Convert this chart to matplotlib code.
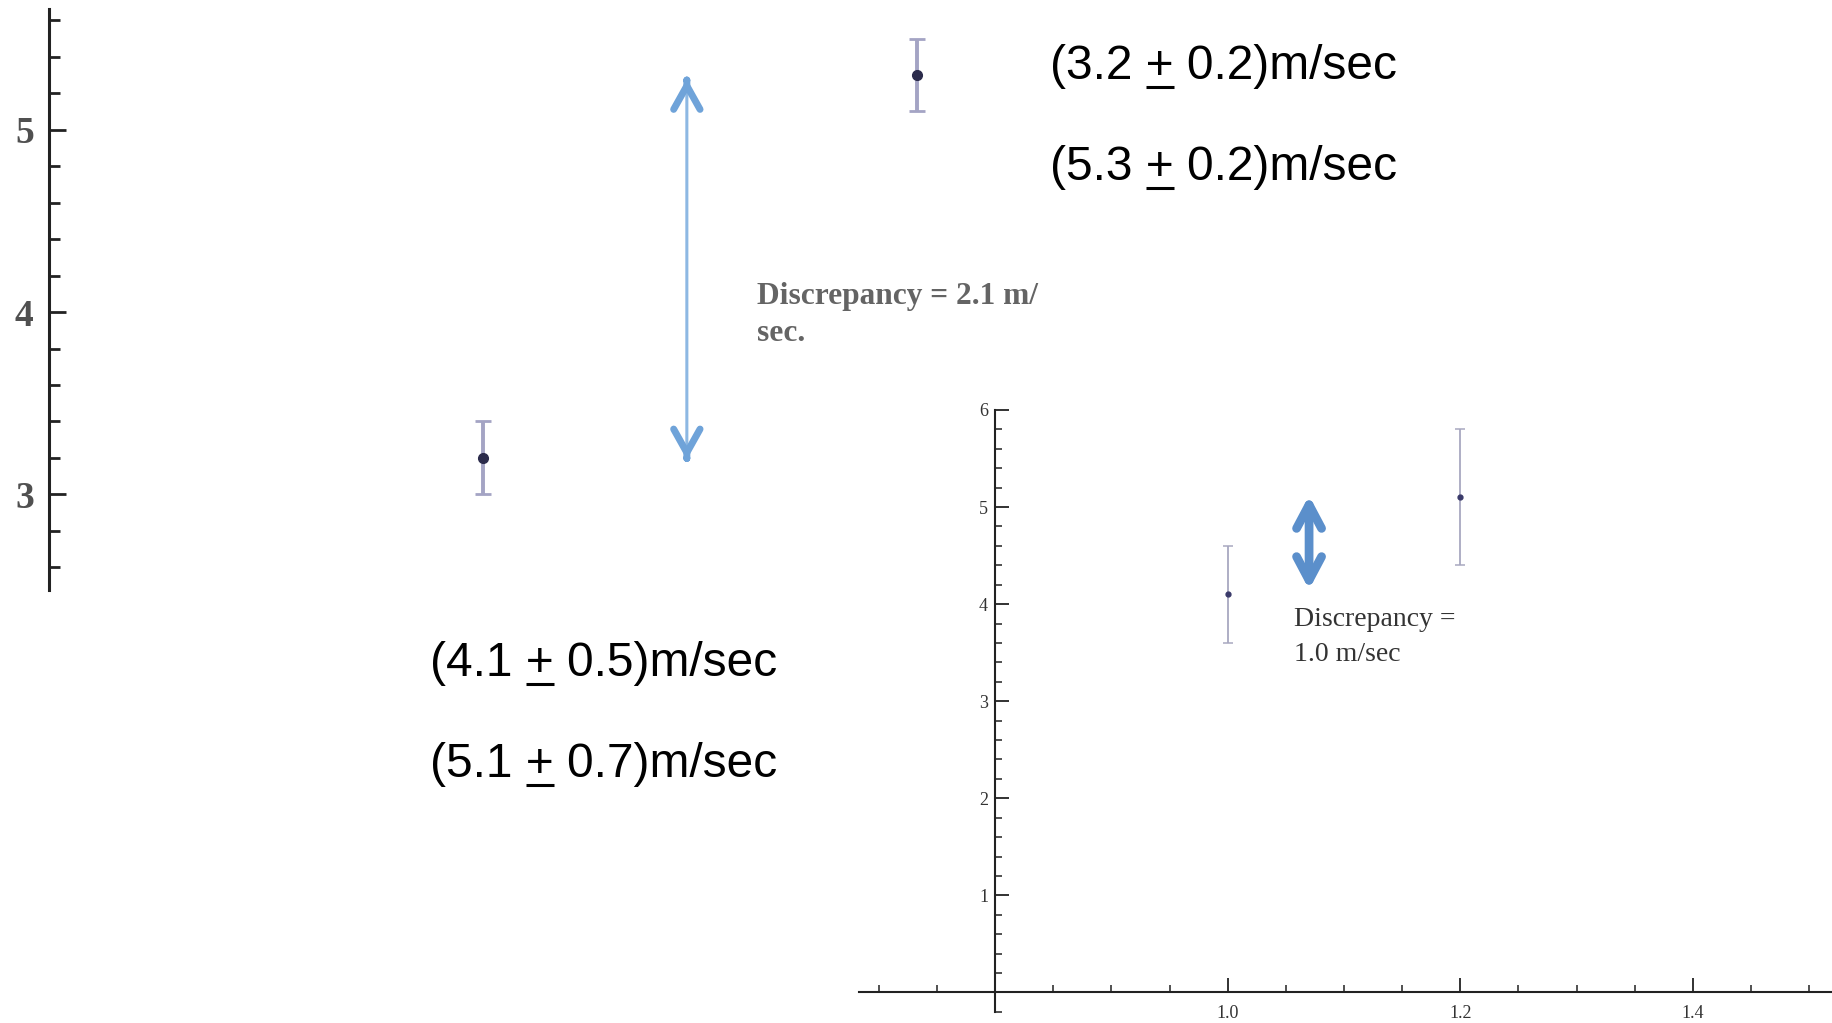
import matplotlib
matplotlib.use('Agg')
import matplotlib.pyplot as plt
from matplotlib.lines import Line2D
from matplotlib.ticker import MultipleLocator, FixedLocator, FormatStrFormatter

W, H, DPI = 1833, 1023, 100

# ---------------- data ----------------
left_x = [1, 2]
left_speed = [3.2, 5.3]
left_err = [0.2, 0.2]
left_yticks = [3, 4, 5]

right_x = [1.0, 1.2]
right_speed = [4.1, 5.1]
right_err = [0.5, 0.7]
right_yticks = [1, 2, 3, 4, 5, 6]
right_xticks = [1.0, 1.2, 1.4]

fig = plt.figure(figsize=(W / DPI, H / DPI), dpi=DPI)
fig.patch.set_facecolor('white')


def box(x0, y0, x1, y1):
    return [x0 / W, 1 - y1 / H, (x1 - x0) / W, (y1 - y0) / H]


def fxy(x, y):
    return x / W, 1 - y / H


# ---------------- left (upper) chart ----------------
axL = fig.add_axes(box(49, 9, 1047, 590))
axL.set_xlim(0, 2.3)
axL.set_ylim(2.476, 5.662)
for s in ['top', 'right', 'bottom']:
    axL.spines[s].set_visible(False)
axL.spines['left'].set_linewidth(2.2)
axL.spines['left'].set_color('#222222')
axL.set_xticks([])
axL.yaxis.set_major_locator(FixedLocator(left_yticks))
axL.yaxis.set_minor_locator(MultipleLocator(0.2))
axL.tick_params(axis='y', which='major', direction='in', length=12, width=2,
                color='#222222', pad=11, labelsize=27, labelcolor='#505050')
axL.tick_params(axis='y', which='minor', direction='in', length=8, width=2,
                color='#222222')
for lab in axL.get_yticklabels():
    lab.set_fontfamily('Liberation Serif')
    lab.set_fontweight('bold')
axL.patch.set_alpha(0)

axL.errorbar(left_x, left_speed, yerr=left_err, fmt='o', ms=7,
             color='#2b2b4b', ecolor='#a4a4c4', elinewidth=2.8,
             capsize=6, capthick=2, zorder=3)

arrow_col = '#6fa3d9'
ax_arrow_x = 1.47
lo, hi = left_speed[0] - 0.01, left_speed[1] - 0.02
axL.annotate('', xy=(ax_arrow_x, hi), xytext=(ax_arrow_x, lo),
             arrowprops=dict(arrowstyle='-', lw=2.2, color='#8db8e3',
                             shrinkA=0, shrinkB=0))
for tip, back in [(hi, hi - 0.01), (lo, lo + 0.01)]:
    axL.annotate('', xy=(ax_arrow_x, tip), xytext=(ax_arrow_x, back),
                 arrowprops=dict(arrowstyle='->,head_length=17,head_width=9.5',
                                 lw=5, color=arrow_col, mutation_scale=1,
                                 shrinkA=0, shrinkB=0))

dl = left_speed[1] - left_speed[0]
fig.text(*fxy(757, 304), f"Discrepancy = {dl:.1f} m/", fontsize=22.6,
         family='Liberation Serif', fontweight='bold', color='#646464',
         va='baseline', ha='left')
fig.text(*fxy(757, 341), "sec.", fontsize=22.6, family='Liberation Serif',
         fontweight='bold', color='#646464', va='baseline', ha='left')

# ---------------- right (lower) chart ----------------
axR = fig.add_axes(box(859, 410, 1832.4, 1021.6))
axR.set_xlim(0.683, 1.52)
axR.set_ylim(-0.3, 6.0)
axR.patch.set_alpha(0)
for s in ['top', 'right']:
    axR.spines[s].set_visible(False)
axR.spines['left'].set_position(('data', 0.8))
axR.spines['bottom'].set_position(('data', 0))
axR.spines['left'].set_bounds(-0.2, 6)
for s in ['left', 'bottom']:
    axR.spines[s].set_linewidth(1.5)
    axR.spines[s].set_color('#222222')
axR.yaxis.set_major_locator(FixedLocator(right_yticks))
axR.yaxis.set_minor_locator(MultipleLocator(0.2))
axR.xaxis.set_major_locator(FixedLocator(right_xticks))
axR.xaxis.set_minor_locator(MultipleLocator(0.05))
axR.xaxis.set_major_formatter(FormatStrFormatter('%.1f'))
axR.tick_params(which='major', direction='in', length=10, width=1.3,
                color='#222222', labelsize=13, labelcolor='#333333')
axR.tick_params(which='minor', direction='in', length=5, width=1.1,
                color='#222222')
axR.tick_params(axis='y', which='major', pad=5)
axR.tick_params(axis='x', which='major', pad=9)
for lab in axR.get_xticklabels() + axR.get_yticklabels():
    lab.set_fontfamily('Liberation Serif')

axR.errorbar(right_x, right_speed, yerr=right_err, fmt='o', ms=3.5,
             color='#3a3a6a', ecolor='#a8a8c0', elinewidth=1.3,
             capsize=3.5, capthick=1.1, zorder=3)

axR.annotate('', xy=(1.07, 5.12), xytext=(1.07, 4.15),
             arrowprops=dict(arrowstyle='<->,head_length=17,head_width=9',
                             lw=6.3, color='#5b8fcb', mutation_scale=1,
                             shrinkA=0, shrinkB=0))

dr = right_speed[1] - right_speed[0]
fig.text(*fxy(1294, 626), "Discrepancy =", fontsize=20,
         family='Liberation Serif', color='#333333', va='baseline')
fig.text(*fxy(1294, 661), f"{dr:.1f} m/sec", fontsize=20,
         family='Liberation Serif', color='#333333', va='baseline')

# ---------------- value labels with underlined plus ----------------
txt_kw = dict(fontsize=34.5, family='Liberation Sans', color='black',
              va='baseline', ha='left')
renderer = fig.canvas.get_renderer()
plus_probe = fig.text(0, 0, "+", **txt_kw)
plus_w = plus_probe.get_window_extent(renderer).width
plus_probe.remove()


def val_label(x, y, v, e):
    pos = fxy(x, y)
    fig.text(*pos, f"({v:.1f} + {e:.1f})m/sec", **txt_kw)
    probe = fig.text(*pos, f"({v:.1f} +", **txt_kw)
    x1 = probe.get_window_extent(renderer).x1
    probe.remove()
    x0 = x1 - plus_w
    yline = H - (y + 7.5)
    fig.add_artist(Line2D([x0 / W, x1 / W], [yline / H, yline / H],
                          transform=fig.transFigure, lw=2.2, color='black',
                          solid_capstyle='butt'))


val_label(1050, 79, left_speed[0], left_err[0])
val_label(1050, 180, left_speed[1], left_err[1])
val_label(430, 676, right_speed[0], right_err[0])
val_label(430, 777, right_speed[1], right_err[1])

fig.savefig('out.png', dpi=DPI, facecolor='white')
